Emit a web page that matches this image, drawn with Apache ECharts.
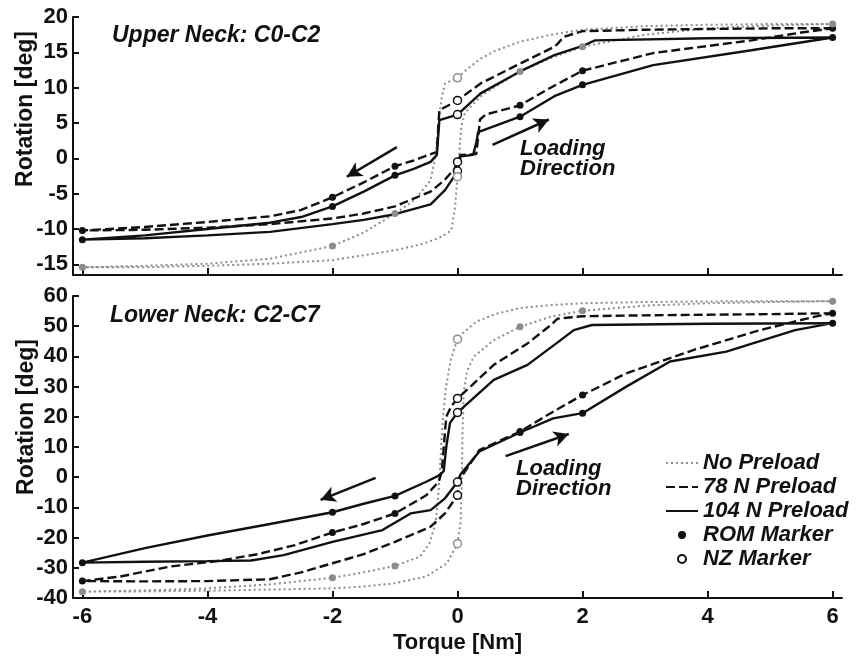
<!DOCTYPE html>
<html>
<head>
<meta charset="utf-8">
<title>Neck rotation vs torque</title>
<script src="https://cdn.jsdelivr.net/npm/echarts@6/dist/echarts.min.js"></script>
<style>
	html,body{margin:0;padding:0;background:#fff;}
	#main{width:857px;height:659px;}
</style>
</head>
<body>
<div id="main"></div>
<script>
// tick labels
var torqueTicks = [-6, -4, -2, 0, 2, 4, 6];
var upperTicks = [-15, -10, -5, 0, 5, 10, 15, 20];
var lowerTicks = [-40, -30, -20, -10, 0, 10, 20, 30, 40, 50, 60];

// upper neck C0-C2 : [torque, rotation], unloading 6 -> -6 then loading -6 -> 6
var upperNoPreload = [[6,19.0],[5,19.0],[4,18.9],[3,18.7],[2,18.2],[1.5,17.5],[1,16.5],[0.6,15.2],[0.37,14.1],[0.15,12.6],[0,11.4],[-0.2,10.6],[-0.25,8.7],[-0.28,6.8],[-0.32,3.0],[-0.36,0.0],[-0.43,-3.1],[-0.7,-6.0],[-1,-7.8],[-1.5,-10.5],[-2,-12.4],[-3,-14.2],[-4,-14.9],[-5,-15.2],[-6,-15.4],
	[-5,-15.4],[-4,-15.2],[-3,-14.9],[-2,-14.4],[-1,-13.0],[-0.6,-12.2],[-0.3,-11.3],[-0.1,-10.2],[-0.04,-7.0],[0,-2.6],[0.03,1.0],[0.06,4.5],[0.12,6.5],[0.4,9.0],[1,12.3],[1.5,14.2],[2,15.8],[3,17.5],[4,18.4],[5,18.8],[6,19.0]];
var upper78 = [[6,18.4],[5,18.4],[4,18.3],[3,18.2],[2,18.0],[1.7,17.2],[1.6,16.2],[1.55,15.8],[1,13.4],[0.37,10.6],[0,8.2],[-0.29,6.8],[-0.31,4.0],[-0.33,0.9],[-0.43,0.6],[-0.7,-0.3],[-1,-1.1],[-1.5,-3.4],[-2,-5.5],[-2.5,-7.3],[-3,-8.2],[-4,-9.0],[-5,-9.7],[-6,-10.2],
	[-5,-10.1],[-4,-9.8],[-3,-9.3],[-2,-8.5],[-1.5,-7.8],[-1,-6.8],[-0.43,-4.7],[-0.2,-3.0],[-0.05,-1.5],[0,-0.5],[0.05,0.5],[0.3,0.6],[0.33,3.0],[0.36,5.5],[0.45,6.2],[1,7.5],[1.49,10.0],[2,12.4],[3.13,14.9],[4.7,16.7],[5.5,17.8],[6,18.4]];
var upper104 = [[6,17.1],[4,17.0],[2.2,16.7],[2,15.9],[1.55,14.6],[1,12.3],[0.37,9.2],[0,6.2],[-0.29,5.4],[-0.31,3.0],[-0.33,0.5],[-0.43,-0.5],[-0.7,-1.5],[-1,-2.4],[-1.5,-4.7],[-2,-6.8],[-2.5,-8.3],[-3,-9.1],[-4,-10.0],[-5,-10.9],[-6,-11.5],
	[-5,-11.3],[-4,-10.9],[-3,-10.4],[-2,-9.3],[-1.5,-8.7],[-1,-7.9],[-0.43,-6.5],[-0.2,-4.5],[-0.05,-2.5],[0,-1.8],[0.05,0.3],[0.25,0.5],[0.3,2.2],[0.33,3.7],[1,5.9],[1.55,8.8],[2,10.4],[3.13,13.2],[4.7,15.3],[6,17.1]];

var upperRomNoPreload = [[-6,-15.4],[-2,-12.4],[-1,-7.8],[1,12.3],[2,15.8],[6,19.0]];
var upperRom78 = [[-6,-10.2],[-2,-5.5],[-1,-1.1],[1,7.5],[2,12.4],[6,18.4]];
var upperRom104 = [[-6,-11.5],[-2,-6.8],[-1,-2.4],[1,5.9],[2,10.4],[6,17.1]];
var upperNzNoPreload = [[0,11.4],[0,-2.6]];
var upperNz78 = [[0,8.2],[0,-0.5]];
var upperNz104 = [[0,6.2],[0,-1.8]];

// lower neck C2-C7
var lowerNoPreload = [[6,58.3],[5,58.3],[4,58.2],[3,58.0],[2,57.6],[1.5,57.0],[1,56.0],[0.6,54.0],[0.3,51.5],[0.1,48.0],[0,45.7],[-0.11,38.8],[-0.19,28.9],[-0.24,17.8],[-0.27,6.8],[-0.3,-4.2],[-0.35,-15.2],[-0.45,-22.0],[-0.6,-26.3],[-1,-29.4],[-1.5,-31.5],[-2,-33.3],[-3,-35.5],[-4,-36.8],[-5,-37.5],[-6,-37.9],
	[-5,-37.8],[-4,-37.6],[-3,-37.2],[-2,-36.8],[-1.5,-36.2],[-1,-35.1],[-0.5,-32.9],[-0.17,-28.5],[0,-22.0],[0.05,-15.0],[0.07,0.0],[0.08,15.0],[0.1,28.0],[0.15,35.0],[0.26,39.9],[0.58,45.4],[1,49.8],[1.5,53.2],[2,55.1],[3,56.8],[4,57.6],[5,58.0],[6,58.3]];
var lower78 = [[6,54.3],[5,54.0],[4,53.8],[3,53.6],[2,53.3],[1.6,52.5],[1.5,50.5],[1.12,44.3],[0.58,37.2],[0.15,28.9],[0,26.1],[-0.1,23.5],[-0.18,20.0],[-0.22,10.0],[-0.25,2.0],[-0.3,-1.5],[-0.5,-6.0],[-1,-12.0],[-1.5,-15.5],[-2,-18.3],[-2.6,-22.5],[-3.2,-25.5],[-3.85,-27.8],[-4.6,-29.6],[-5.4,-32.9],[-6,-34.4],
	[-5,-34.5],[-4,-34.4],[-3,-33.8],[-2.5,-31.5],[-2,-28.5],[-1.5,-25.5],[-1,-21.4],[-0.43,-16.4],[-0.2,-12.0],[0,-6.0],[0.05,0.0],[0.1,1.3],[0.35,9.0],[1,15.1],[1.53,21.7],[2,27.2],[2.7,34.4],[3.77,42.1],[4.84,48.7],[5.7,53.1],[6,54.3]];
var lower104 = [[6,51.0],[4,50.8],[2.15,50.4],[1.86,48.7],[1.65,45.4],[1.12,37.2],[0.58,32.2],[0.1,23.3],[0,21.4],[-0.12,18.0],[-0.18,10.0],[-0.22,2.0],[-0.3,0.5],[-0.5,-1.5],[-1,-6.2],[-1.5,-8.8],[-2,-11.6],[-3,-15.5],[-4,-19.3],[-5,-23.5],[-6,-28.3],
	[-5,-28.0],[-4,-27.8],[-3.3,-27.6],[-2.78,-25.8],[-2,-21.4],[-1.2,-17.5],[-0.75,-12.0],[-0.43,-10.9],[-0.2,-7.0],[0,-1.6],[0.05,1.0],[0.35,8.5],[1,14.8],[1.53,19.5],[2,21.2],[2.7,30.0],[3.4,38.3],[4.3,41.6],[5.4,48.7],[6,51.0]];

var lowerRomNoPreload = [[-6,-37.9],[-2,-33.3],[-1,-29.4],[1,49.8],[2,55.1],[6,58.3]];
var lowerRom78 = [[-6,-34.4],[-2,-18.3],[-1,-12.0],[1,15.1],[2,27.2],[6,54.3]];
var lowerRom104 = [[-6,-28.3],[-2,-11.6],[-1,-6.2],[1,14.8],[2,21.2],[6,51.0]];
var lowerNzNoPreload = [[0,45.7],[0,-22.0]];
var lowerNz78 = [[0,26.1],[0,-6.0]];
var lowerNz104 = [[0,21.4],[0,-1.6]];

// loading direction arrows [x0, y0, x1, y1] in data units
var upperArrows = [[-0.97,1.6,-1.77,-2.6],[0.56,1.9,1.46,5.5]];
var lowerArrows = [[-1.31,-0.2,-2.19,-7.5],[0.77,7.0,1.78,14.3]];

var BLACK = '#111';
var GREY = '#8c8c8c';
var FONT = '"Liberation Sans", Arial, Helvetica, sans-serif';

function xAxisOf(idx, showLabel) {
	return {
		type: 'value', gridIndex: idx, min: -6.15, max: 6.15,
		name: showLabel ? 'Torque [Nm]' : '',
		nameLocation: 'middle', nameGap: 34,
		nameTextStyle: {color: BLACK, fontSize: 22, fontWeight: 'bold', fontFamily: FONT},
		axisLine: {show: true, onZero: false, lineStyle: {color: BLACK, width: 2}},
		axisTick: {show: true, inside: true, length: 7, customValues: torqueTicks, lineStyle: {color: BLACK, width: 2}},
		axisLabel: {show: showLabel, customValues: torqueTicks, margin: 8, color: BLACK, fontSize: 22, fontWeight: 'bold', fontFamily: FONT},
		splitLine: {show: false}
	};
}
function yAxisOf(idx, min, max, ticks) {
	return {
		type: 'value', gridIndex: idx, min: min, max: max,
		axisLine: {show: true, onZero: false, lineStyle: {color: BLACK, width: 2}},
		axisTick: {show: true, inside: true, length: 6, customValues: ticks, lineStyle: {color: BLACK, width: 2}},
		axisLabel: {customValues: ticks, margin: 5, color: BLACK, fontSize: 22, fontWeight: 'bold', fontFamily: FONT},
		splitLine: {show: false}
	};
}
function loop(name, idx, data, color, type, z) {
	return {
		name: name, type: 'line', xAxisIndex: idx, yAxisIndex: idx, data: data,
		symbol: 'none', z: z,
		lineStyle: {color: color, width: color == GREY ? 2 : 2.4, type: type},
		itemStyle: {color: color}
	};
}
function rom(idx, data, color) {
	return {
		name: 'ROM Marker', type: 'scatter', xAxisIndex: idx, yAxisIndex: idx, data: data,
		symbol: 'circle', symbolSize: 7, z: 5, itemStyle: {color: color, opacity: 1}
	};
}
function nz(idx, data, color) {
	return {
		name: 'NZ Marker', type: 'scatter', xAxisIndex: idx, yAxisIndex: idx, data: data,
		symbol: 'circle', symbolSize: 8, z: 5, itemStyle: {color: '#fff', borderColor: color, borderWidth: 1.5, opacity: 1}
	};
}
function arrows(list) {
	return {
		silent: true, animation: false, symbol: ['none', 'arrow'], symbolSize: [12, 15],
		lineStyle: {color: BLACK, width: 2.5, type: 'solid'}, label: {show: false},
		data: list.map(function(a) { return [{coord: [a[0], a[1]]}, {coord: [a[2], a[3]]}]; })
	};
}

var series = [];
// black markers first so the legend takes their style
series.push(rom(0, upperRom104, BLACK), rom(0, upperRom78, BLACK), rom(1, lowerRom104, BLACK), rom(1, lowerRom78, BLACK));
series.push(nz(0, upperNz104, BLACK), nz(0, upperNz78, BLACK), nz(1, lowerNz104, BLACK), nz(1, lowerNz78, BLACK));
series.push(rom(0, upperRomNoPreload, GREY), rom(1, lowerRomNoPreload, GREY));
series.push(nz(0, upperNzNoPreload, GREY), nz(1, lowerNzNoPreload, GREY));
series.push(loop('No Preload', 0, upperNoPreload, GREY, [2, 3], 1));
series.push(loop('78 N Preload', 0, upper78, BLACK, [9, 4], 2));
var u104 = loop('104 N Preload', 0, upper104, BLACK, 'solid', 2);
u104.markLine = arrows(upperArrows);
series.push(u104);
series.push(loop('No Preload', 1, lowerNoPreload, GREY, [2, 3], 1));
series.push(loop('78 N Preload', 1, lower78, BLACK, [9, 4], 2));
var l104 = loop('104 N Preload', 1, lower104, BLACK, 'solid', 2);
l104.markLine = arrows(lowerArrows);
series.push(l104);

var titleStyle = {color: BLACK, fontSize: 23, fontWeight: 'bold', fontStyle: 'italic', fontFamily: FONT};
var noteFont = 'italic bold 22px ' + FONT;
var axisNameFont = 'bold 23px ' + FONT;
// line entries: hide the dot the line legend icon carries
var noDot = {opacity: 0};

var option = {
	animation: false,
	backgroundColor: '#fff',
	title: [
		{text: 'Upper Neck: C0-C2', left: 112, top: 24, padding: 0, textStyle: titleStyle},
		{text: 'Lower Neck: C2-C7', left: 110, top: 304, padding: 0, textStyle: titleStyle}
	],
	legend: {
		orient: 'vertical', left: 665, top: 452, padding: 0,
		itemWidth: 32, itemHeight: 8, itemGap: 2, selectedMode: false,
		data: [
			{name: 'No Preload', itemStyle: noDot},
			{name: '78 N Preload', itemStyle: noDot},
			{name: '104 N Preload', itemStyle: noDot},
			'ROM Marker', 'NZ Marker'
		],
		textStyle: {color: BLACK, fontSize: 22, fontWeight: 'bold', fontStyle: 'italic', fontFamily: FONT}
	},
	grid: [
		{left: 73, top: 17, width: 769, height: 258},
		{left: 73, top: 296, width: 769, height: 302}
	],
	xAxis: [xAxisOf(0, false), xAxisOf(1, true)],
	yAxis: [yAxisOf(0, -16.5, 20, upperTicks), yAxisOf(1, -40, 60, lowerTicks)],
	graphic: [
		{type: 'text', x: 26, y: 109, rotation: Math.PI / 2, style: {text: 'Rotation [deg]', font: axisNameFont, fill: BLACK, align: 'center', verticalAlign: 'middle'}},
		{type: 'text', x: 27, y: 417, rotation: Math.PI / 2, style: {text: 'Rotation [deg]', font: axisNameFont, fill: BLACK, align: 'center', verticalAlign: 'middle'}},
		{type: 'text', x: 520, y: 139, style: {text: 'Loading\nDirection', font: noteFont, lineHeight: 20, fill: BLACK}},
		{type: 'text', x: 516, y: 459, style: {text: 'Loading\nDirection', font: noteFont, lineHeight: 20, fill: BLACK}}
	],
	series: series
};

var chart = echarts.init(document.getElementById('main'));
chart.setOption(option);
</script>
</body>
</html>
